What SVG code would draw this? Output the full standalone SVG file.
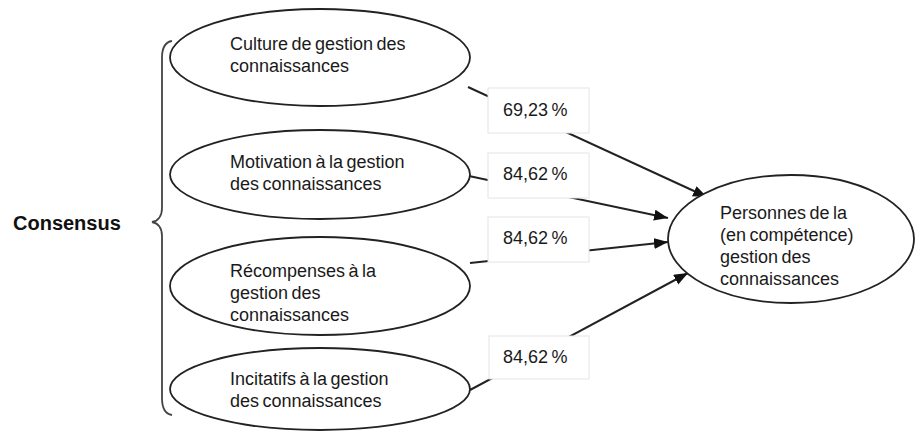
<svg xmlns="http://www.w3.org/2000/svg" width="915" height="431" viewBox="0 0 915 431">
<style>
.el{fill:#fff;stroke:#222;stroke-width:1.8}
.t{font-family:"Liberation Sans",Arial,sans-serif;font-size:18px;fill:#1a1a1a;word-spacing:-1.5px}
.b{font-family:"Liberation Sans",Arial,sans-serif;font-size:20px;font-weight:bold;fill:#111}
.box{fill:#fff;stroke:#e4e4e4;stroke-width:1}
.ln{stroke:#222;stroke-width:2;fill:none}
.br{stroke:#444;stroke-width:1.8;fill:none}
</style>
<defs>
<marker id="ah" markerUnits="userSpaceOnUse" markerWidth="15" markerHeight="12" refX="14" refY="5.5" orient="auto">
<path d="M0,0 L14,5.5 L0,11 z" fill="#111"/>
</marker>
</defs>
<g id="consensus">
<text class="b" x="13" y="230">Consensus</text>
<path class="br" d="M172,41 C165,42 162,48 162,58 L162,208 C162,216 158,221 152,222 C158,223 162,228 162,236 L162,398 C162,408 165,414 172,415"/>
</g>
<g id="connectors">
<line class="ln" x1="468" y1="87" x2="707" y2="197" marker-end="url(#ah)"/>
<line class="ln" x1="469" y1="176" x2="668" y2="218" marker-end="url(#ah)"/>
<line class="ln" x1="470" y1="263" x2="668" y2="242" marker-end="url(#ah)"/>
<line class="ln" x1="470" y1="390" x2="688" y2="273" marker-end="url(#ah)"/>
</g>
<g id="n1">
<ellipse class="el" cx="320" cy="57.5" rx="150" ry="48.5"/>
<text class="t" x="230" y="50">Culture de gestion des</text>
<text class="t" x="230" y="72">connaissances</text>
</g>
<g id="n2">
<ellipse class="el" cx="320" cy="174.5" rx="150" ry="44.5"/>
<text class="t" x="230" y="168">Motivation à la gestion</text>
<text class="t" x="230" y="190">des connaissances</text>
</g>
<g id="n3">
<ellipse class="el" cx="320" cy="286" rx="150" ry="49"/>
<text class="t" x="230" y="277">Récompenses à la</text>
<text class="t" x="230" y="299">gestion des</text>
<text class="t" x="230" y="321">connaissances</text>
</g>
<g id="n4">
<ellipse class="el" cx="320" cy="389" rx="150" ry="41"/>
<text class="t" x="230" y="385">Incitatifs à la gestion</text>
<text class="t" x="230" y="407">des connaissances</text>
</g>
<g id="target">
<ellipse class="el" cx="791" cy="239" rx="123" ry="64"/>
<text class="t" x="720" y="219">Personnes de la</text>
<text class="t" x="720" y="241">(en compétence)</text>
<text class="t" x="720" y="263">gestion des</text>
<text class="t" x="720" y="285">connaissances</text>
</g>
<g id="l1">
<rect class="box" x="488" y="88" width="101" height="45"/>
<text class="t" x="503" y="116">69,23 %</text>
</g>
<g id="l2">
<rect class="box" x="488" y="153" width="101" height="45"/>
<text class="t" x="503" y="180">84,62 %</text>
</g>
<g id="l3">
<rect class="box" x="488" y="217" width="101" height="45"/>
<text class="t" x="503" y="244">84,62 %</text>
</g>
<g id="l4">
<rect class="box" x="489" y="336" width="100" height="43"/>
<text class="t" x="503" y="363">84,62 %</text>
</g>
</svg>
